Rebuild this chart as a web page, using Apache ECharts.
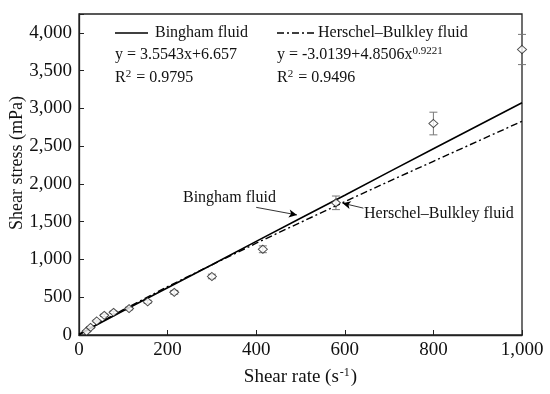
<!DOCTYPE html>
<html><head><meta charset="utf-8">
<script src="https://cdn.jsdelivr.net/npm/echarts@6/dist/echarts.min.js"></script>
<style>html,body{margin:0;padding:0;background:#fff}#c{width:550px;height:394px}</style>
</head><body><div id="c"></div>
<script>
// ---- data ----
const shearRate   = [17, 26, 40, 57, 78, 113, 155, 215, 300, 415, 580, 800, 1000];
const shearStress = [50, 100, 185, 260, 300, 350, 440, 565, 775, 1135, 1750, 2800, 3780];
const stressError = [10, 10, 12, 15, 15, 18, 20, 25, 30, 45, 90, 150, 200];
const binghamX = [0, 100, 200, 300, 400, 500, 600, 700, 800, 900, 1000];
const binghamY = [10, 320, 625, 930, 1240, 1545, 1850, 2160, 2465, 2770, 3075];
const hbX = [0, 50, 100, 200, 300, 400, 500, 600, 700, 800, 900, 1000];
const hbY = [0, 175, 335, 640, 930, 1215, 1490, 1765, 2035, 2300, 2565, 2830];
const xTickStep = 200;
const yTickStep = 500;
const seriesNames = ['Bingham fluid', 'Herschel–Bulkley fluid'];

const FONT = '"Liberation Serif", "Times New Roman", serif';
const DASHDOT = [7, 3, 2, 3];
const chart = echarts.init(document.getElementById('c'), null, {renderer: 'canvas'});
const fmt = v => Number(v).toLocaleString('en-US');
const sup = {fontSize: 11, fontFamily: FONT, fill: '#111', color: '#111', verticalAlign: 'top', padding: [0, 1, 8, 0]};

chart.setOption({
  animation: false,
  backgroundColor: '#fff',
  grid: {left: 79, right: 28, top: 14, bottom: 59, show: true, borderColor: '#222', borderWidth: 1.3, backgroundColor: 'transparent'},
  xAxis: {
    type: 'value', min: 0, max: 1000, interval: xTickStep,
    axisLine: {show: true, lineStyle: {color: '#222', width: 1.3}},
    axisTick: {show: true, inside: true, length: 5, lineStyle: {color: '#222'}},
    splitLine: {show: false},
    axisLabel: {fontFamily: FONT, fontSize: 19, color: '#111', margin: 6, formatter: fmt},
    name: 'Shear rate (s{s|-1})', nameLocation: 'middle', nameGap: 32,
    nameTextStyle: {fontFamily: FONT, fontSize: 19, color: '#111',
      rich: {s: {fontFamily: FONT, fontSize: 12, color: '#111', verticalAlign: 'top', padding: [0, 1, 8, 1]}}}
  },
  yAxis: {
    type: 'value', min: 0, max: 4250, interval: yTickStep,
    axisLine: {show: true, lineStyle: {color: '#222', width: 1.3}},
    axisTick: {show: true, inside: true, length: 5, lineStyle: {color: '#222'}},
    splitLine: {show: false},
    axisLabel: {fontFamily: FONT, fontSize: 19, color: '#111', margin: 7,
      formatter: v => (v % yTickStep === 0 ? fmt(v) : '')}
  },
  graphic: [
    {type: 'text', x: 17, y: 163, rotation: Math.PI / 2,
      style: {text: 'Shear stress (mPa)', font: '18px ' + FONT, fill: '#111', textAlign: 'center', textVerticalAlign: 'middle'}},
    // legend samples
    {type: 'line', shape: {x1: 115, y1: 33, x2: 148, y2: 33}, style: {stroke: '#000', lineWidth: 1.6}},
    {type: 'text', x: 155, y: 33, style: {text: seriesNames[0], font: '16px ' + FONT, fill: '#111', textVerticalAlign: 'middle'}},
    {type: 'line', shape: {x1: 277, y1: 33, x2: 314, y2: 33}, style: {stroke: '#000', lineWidth: 1.4, lineDash: DASHDOT}},
    {type: 'text', x: 318, y: 33, style: {text: seriesNames[1], font: '16px ' + FONT, fill: '#111', textVerticalAlign: 'middle'}},
    // equations
    {type: 'text', x: 115, y: 55, style: {text: 'y = 3.5543x+6.657', font: '16px ' + FONT, fill: '#111', textVerticalAlign: 'middle'}},
    {type: 'text', x: 115, y: 78, style: {text: 'R{s|2} = 0.9795', font: '16px ' + FONT, fill: '#111', textVerticalAlign: 'middle', rich: {s: sup}}},
    {type: 'text', x: 277, y: 55, style: {text: 'y = -3.0139+4.8506x{s|0.9221}', font: '16px ' + FONT, fill: '#111', textVerticalAlign: 'middle', rich: {s: sup}}},
    {type: 'text', x: 277, y: 78, style: {text: 'R{s|2} = 0.9496', font: '16px ' + FONT, fill: '#111', textVerticalAlign: 'middle', rich: {s: sup}}},
    // annotations
    {type: 'text', x: 183, y: 190, style: {text: 'Bingham fluid', font: '16px ' + FONT, fill: '#111'}},
    {type: 'text', x: 364, y: 206, style: {text: 'Herschel–Bulkley fluid', font: '16px ' + FONT, fill: '#111'}}
  ],
  series: [
    {name: seriesNames[0], type: 'line', data: binghamX.map((x, i) => [x, binghamY[i]]),
      showSymbol: false, symbol: 'none', lineStyle: {color: '#000', width: 1.6, type: 'solid'},
      itemStyle: {color: '#000'},
      markLine: {silent: true, symbol: ['none', 'arrow'], symbolSize: [6, 8], label: {show: false},
        lineStyle: {color: '#000', width: 0.8, type: 'solid'},
        data: [[{coord: [400, 1690]}, {coord: [492, 1590]}]]}},
    {name: seriesNames[1], type: 'line', data: hbX.map((x, i) => [x, hbY[i]]),
      showSymbol: false, symbol: 'none', lineStyle: {color: '#000', width: 1.4, type: DASHDOT},
      itemStyle: {color: '#000'},
      markLine: {silent: true, symbol: ['none', 'arrow'], symbolSize: [6, 8], label: {show: false},
        lineStyle: {color: '#000', width: 0.8, type: 'solid'},
        data: [[{coord: [642, 1680]}, {coord: [595, 1745]}]]}},
    {name: 'err', type: 'custom', clip: false, z: 3,
      data: shearRate.map((x, i) => [x, shearStress[i], stressError[i]]),
      renderItem: (params, api) => {
        const x = api.value(0), y = api.value(1), e = api.value(2);
        const t = api.coord([x, y + e]), b = api.coord([x, y - e]);
        const st = {stroke: '#777', lineWidth: 1};
        return {type: 'group', children: [
          {type: 'line', shape: {x1: t[0], y1: t[1], x2: b[0], y2: b[1]}, style: st},
          {type: 'line', shape: {x1: t[0] - 4, y1: t[1], x2: t[0] + 4, y2: t[1]}, style: st},
          {type: 'line', shape: {x1: b[0] - 4, y1: b[1], x2: b[0] + 4, y2: b[1]}, style: st}
        ]};
      }},
    {name: 'data', type: 'scatter', clip: false, z: 4,
      data: shearRate.map((x, i) => [x, shearStress[i]]),
      symbol: 'diamond', symbolSize: [9, 8],
      itemStyle: {color: '#fff', borderColor: '#222', borderWidth: 1}}
  ]
});
</script></body></html>
